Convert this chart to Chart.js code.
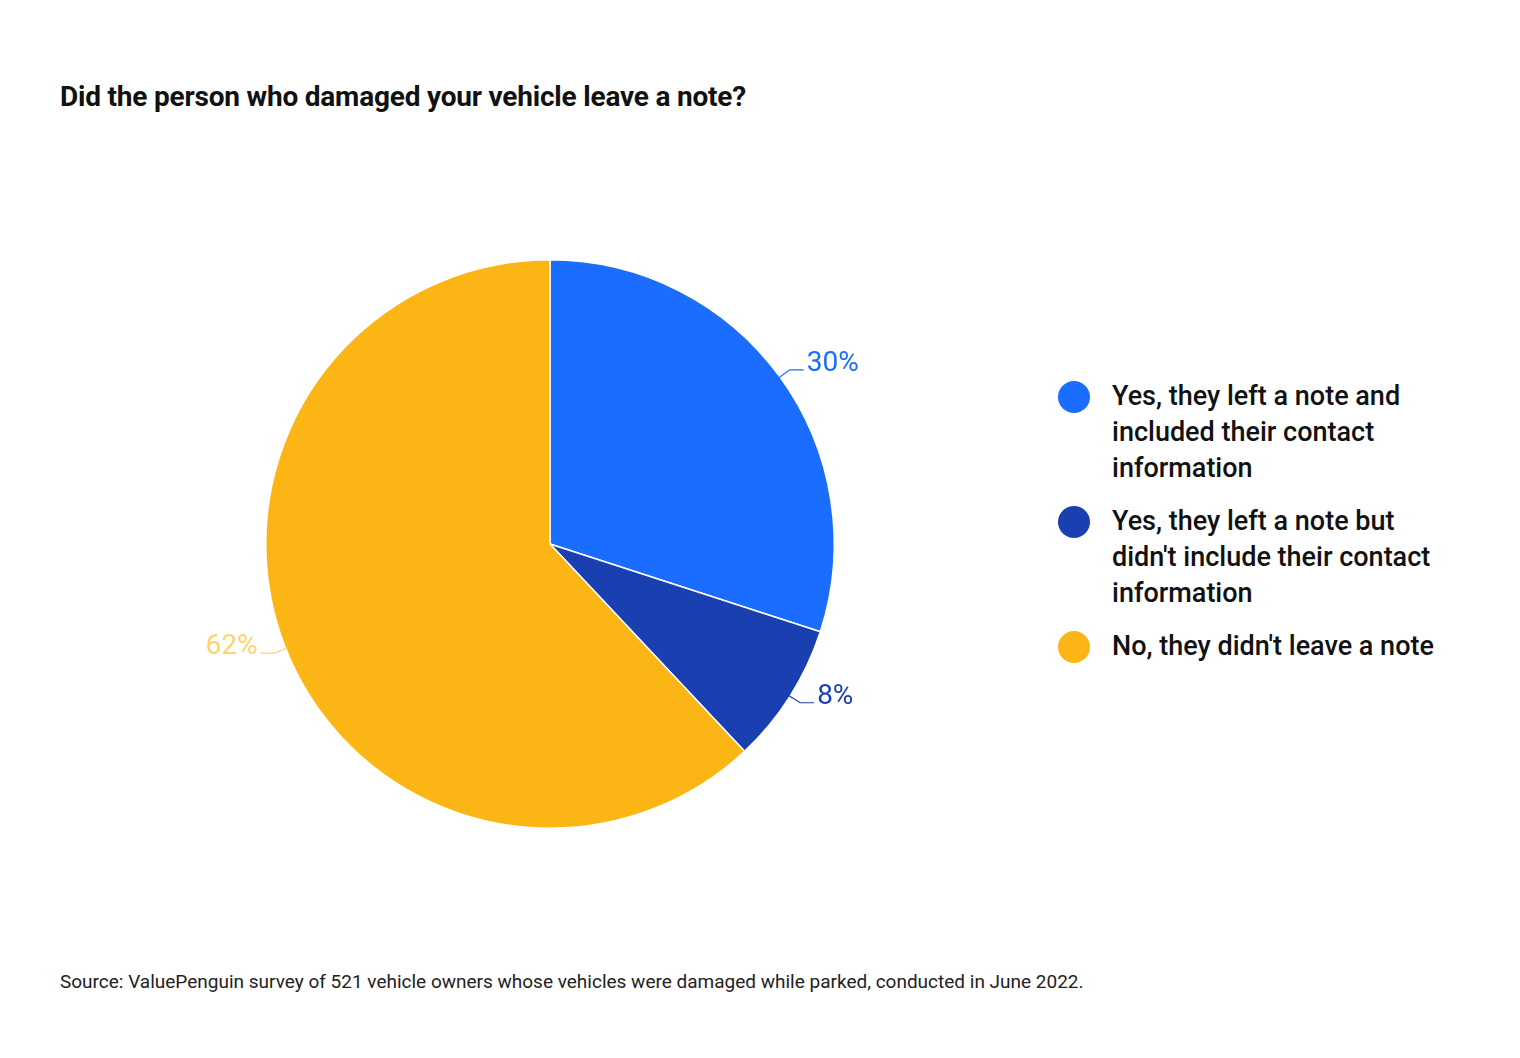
<!DOCTYPE html>
<html><head><meta charset="utf-8">
<script src="https://cdn.jsdelivr.net/npm/chart.js@4"></script>
<style>
body{margin:0;width:1520px;height:1058px;background:#fff;font-family:Roboto,sans-serif;position:relative;overflow:hidden}
#title{position:absolute;left:60px;top:80px;font-size:28px;font-weight:700;color:#111;letter-spacing:-0.2px}
#src{position:absolute;left:60px;top:970px;font-size:19px;color:#222}
#wrap{position:absolute;left:150px;top:204px;width:800px;height:680px}
#legend{position:absolute;left:1058px;top:378px;width:400px}
.item{display:flex;margin-bottom:17px}
.dot{width:32px;height:32px;border-radius:50%;flex:none;margin-right:22px;margin-top:3px}
.txt{font-size:27px;font-weight:500;line-height:36px;color:#111}
</style></head><body>
<div id="title">Did the person who damaged your vehicle leave a note?</div>
<div id="wrap"><canvas id="c" width="800" height="680"></canvas></div>
<div id="legend"></div>
<div id="src">Source: ValuePenguin survey of 521 vehicle owners whose vehicles were damaged while parked, conducted in June 2022.</div>
<script>
const categories=["Yes, they left a note and included their contact information","Yes, they left a note but didn't include their contact information","No, they didn't leave a note"];
const values=[30,8,62];
const colors=["#1a6dff","#1a3fb0","#fbb615"];
const labelColors=["#1a6dff","#1a3fb0","#fcd36e"];
const lg=document.getElementById('legend');
categories.forEach((c,i)=>{lg.innerHTML+=`<div class="item"><div class="dot" style="background:${colors[i]}"></div><div class="txt">${c}</div></div>`;});
const outLabels={id:'out',afterDatasetsDraw(ch){
 const ctx=ch.ctx;const meta=ch.getDatasetMeta(0);
 meta.data.forEach((a,i)=>{
  const m=(a.startAngle+a.endAngle)/2,r=a.outerRadius,cx=a.x,cy=a.y;
  const p=(k)=>[cx+Math.cos(m)*k,cy+Math.sin(m)*k];
  const [x1,y1]=p(r-3),[x2,y2]=p(r+12);
  const right=Math.cos(m)>=0;const x3=x2+(right?14:-14);
  ctx.save();ctx.strokeStyle=labelColors[i];ctx.lineWidth=1.2;
  ctx.beginPath();ctx.moveTo(x1,y1);ctx.lineTo(x2,y2);ctx.lineTo(x3,y2);ctx.stroke();
  ctx.fillStyle=labelColors[i];ctx.font='28px Roboto';ctx.textBaseline='middle';
  ctx.textAlign=right?'left':'right';ctx.fillText(values[i]+'%',x3+(right?3:-3),y2-6);
  ctx.restore();
 });
}};
new Chart(document.getElementById('c'),{type:'pie',
 data:{labels:categories,datasets:[{data:values,backgroundColor:colors,borderColor:'#ffffff',borderWidth:1.5}]},
 options:{responsive:false,animation:false,layout:{padding:{top:55,bottom:55,left:115,right:115}},
  plugins:{legend:{display:false},tooltip:{enabled:false}}},
 plugins:[outLabels]});
</script></body></html>
